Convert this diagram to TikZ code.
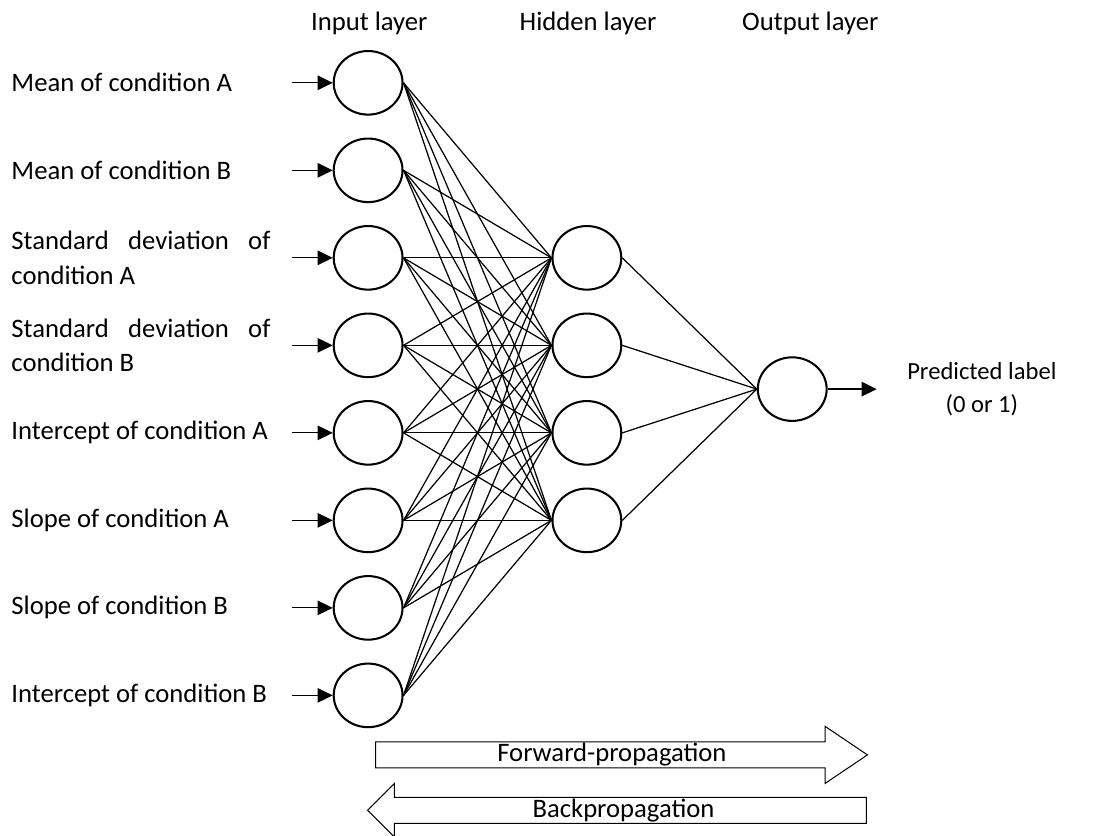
\documentclass[tikz,border=0pt]{standalone}
\usepackage{fontspec}
\setmainfont{Carlito}
\usepackage{tikz}
\usetikzlibrary{arrows.meta,positioning,shapes.geometric,shapes.arrows}
\hyphenpenalty=10000

\begin{document}
\begin{tikzpicture}[>={Triangle[length=2.6mm,width=2.5mm]},
      neuron/.style={ellipse,draw,line width=1pt,minimum width=1.18cm,
                     minimum height=1.09cm,inner sep=0pt},
      feat/.style={anchor=west,inner sep=0pt,font=\fontsize{13}{17}\selectfont},
      featwide/.style={feat,text width=4.44cm,align=justify},
      layer/.style={font=\fontsize{13}{17}\selectfont},
      link/.style={line width=0.6pt},
      flow/.style={single arrow,draw,line width=0.5pt,inner ysep=0pt,
                   font=\fontsize{13}{17}\selectfont}]
    \useasboundingbox (0,0) rectangle (18.77,-14.33);
    \foreach \x/\name/\txt in {6.33/tin/Input layer,
        10.08/thid/Hidden layer,13.89/tout/Output layer}
      \node[layer] (\name) at (\x,-0.40) {\txt};
    \foreach \i in {1,...,8}{
      \node[neuron] (in\i) at (6.31,{-1.42-1.5*(\i-1)}) {};
      \coordinate (src\i) at ([xshift=-0.7cm]in\i.west);
      \draw[->,link] (src\i) -- (in\i.west);
    }
    \foreach \i/\txt in {1/Mean of condition A,2/Mean of condition B,
        5/Intercept of condition A,6/Slope of condition A,
        7/Slope of condition B,8/Intercept of condition B}
      \node[feat] (lab\i) at (0.19,{-1.42-1.5*(\i-1)}) {\txt};
    \node[featwide] (lab3) at (0.19,-4.42) {Standard deviation of condition A};
    \node[featwide] (lab4) at (0.19,-5.92) {Standard deviation of condition B};
    \foreach \j in {1,...,4}
      \node[neuron] (hid\j) at (10.06,{-4.42-1.5*(\j-1)}) {};
    \node[neuron] (out) at (13.58,-6.67) {};
    \foreach \i in {1,...,8}
      \foreach \j in {1,...,4}
        \draw[link] (in\i.east) -- (hid\j.west);
    \foreach \j in {1,...,4}
      \draw[link] (hid\j.east) -- (out.west);
    \coordinate (res) at ([xshift=0.84cm]out.east);
    \draw[->,link] (out.east) -- (res);
    \node[align=center,font=\fontsize{12}{16.5}\selectfont,right=0.4cm of res]
      (pred) {Predicted label\\(0 or 1)};
    \node[flow,anchor=tail,minimum height=8.43cm,minimum width=0.98cm,
          single arrow head extend=0.25cm,single arrow tip angle=68]
      (fwd) at (6.43,-12.94) {Forward-propagation};
    \node[flow,anchor=tail,shape border rotate=180,minimum height=8.55cm,
          minimum width=0.92cm,single arrow head extend=0.22cm,
          single arrow tip angle=90]
      (bwd) at (14.86,-13.89) {Backpropagation};
  \end{tikzpicture}
\end{document}
